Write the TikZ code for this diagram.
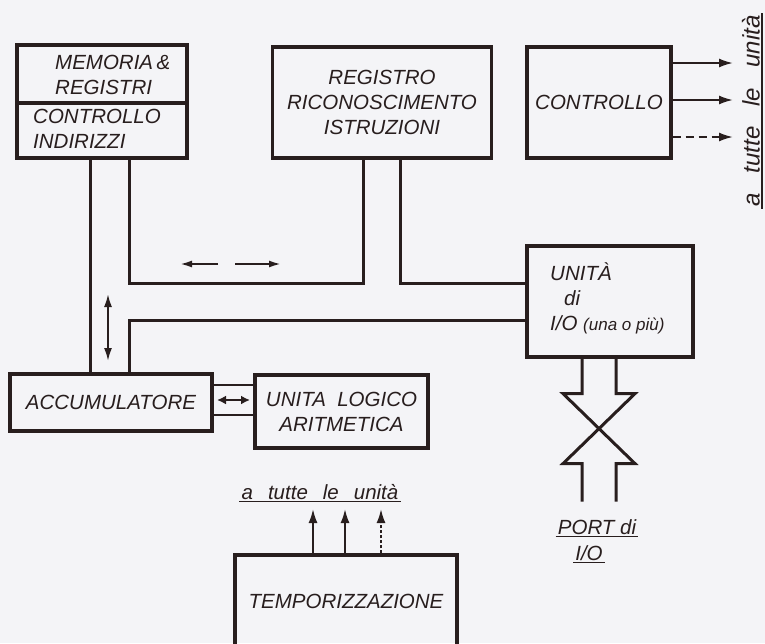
\documentclass[tikz,border=0pt]{standalone}
\usepackage{fontspec}
\setmainfont{Liberation Sans}
\usetikzlibrary{arrows.meta, calc}
\definecolor{ink}{RGB}{40,30,30}
\definecolor{paper}{RGB}{244,244,247}

\begin{document}
\begin{tikzpicture}[x=1pt, y=-1pt, every node/.style={font=\fontsize{20.5}{25}\selectfont\itshape, text=ink}]
  \tikzstyle{block} = [draw=ink, line width=3.2pt, rectangle, inner sep=0pt, align=center]
  \tikzstyle{bus} = [draw=ink, line width=3pt]
  \tikzstyle{sig} = [draw=ink, line width=2pt, -{Latex[length=14pt,width=9pt]}]
  \tikzstyle{lbl} = [inner sep=0pt, align=left]
  \tikzstyle{uline} = [draw=ink, line width=1.8pt]

  \fill[paper] (0,0) rectangle (765,643);
  \useasboundingbox (0,0) rectangle (765,643);

  % blocks
  \node[block, minimum width=170pt, minimum height=58pt] (memtop) at (102,74) {};
  \node[block, minimum width=170pt, minimum height=55pt] (membot) at (102,130.5) {};
  \node[lbl, anchor=west] (memtxt) at (55,75) {MEMORIA\,\&\\REGISTRI};
  \node[lbl, anchor=west] (indtxt) at (33,129) {CONTROLLO\\INDIRIZZI};
  \node[block, minimum width=219pt, minimum height=111pt] (reg) at (382,102.5) {REGISTRO\\RICONOSCIMENTO\\ISTRUZIONI};
  \node[block, minimum width=144pt, minimum height=111pt] (ctl) at (599,102.5) {CONTROLLO};
  \node[block, minimum width=166pt, minimum height=111pt] (io) at (610,301.5) {};
  \node[lbl, anchor=west] (iotxt) at (550,298) {UNITÀ\\\hspace{14pt}di\\I/O {\fontsize{17}{25}\selectfont(una o più)}};
  \node[block, minimum width=202pt, minimum height=57pt] (acc) at (111,402.5) {ACCUMULATORE};
  \node[block, minimum width=173pt, minimum height=73pt] (alu) at (341.5,411.5) {UNITA\ \ LOGICO\\ARITMETICA};
  \node[block, minimum width=222pt, minimum height=92pt] (tmp) at (346,601) {TEMPORIZZAZIONE};

  % bus
  \coordinate (xa) at (90,0);
  \coordinate (xb) at (129,0);
  \coordinate (xc) at (363,0);
  \coordinate (xd) at (400,0);
  \coordinate (yu) at (0,283);
  \coordinate (yl) at (0,320);
  \draw[bus] (membot.south -| xa) -- (acc.north -| xa);
  \draw[bus] (membot.south -| xb) |- (xc |- yu) -- (reg.south -| xc);
  \draw[bus] (reg.south -| xd) |- (io.west |- yu);
  \draw[bus] (acc.north -| xb) |- (io.west |- yl);

  % direction arrows on the bus
  \coordinate (hl0) at (218,264);
  \coordinate (hl1) at (180,264);
  \coordinate (hr0) at (235,264);
  \coordinate (hr1) at (281,264);
  \coordinate (vt) at (108,294);
  \coordinate (vb) at (108,361);
  \draw[sig, -{Latex[length=12pt,width=7pt]}] (hl0) -- (hl1);
  \draw[sig, -{Latex[length=12pt,width=7pt]}] (hr0) -- (hr1);
  \draw[sig, {Latex[length=13pt,width=8pt]}-{Latex[length=13pt,width=8pt]}] (vt) -- (vb);

  % accumulatore <-> ALU
  \coordinate (l1) at (0,385);
  \coordinate (l2) at (0,415);
  \coordinate (a1) at (217,400);
  \coordinate (a2) at (250,400);
  \draw[bus, line width=2.6pt] (acc.east |- l1) -- (alu.west |- l1);
  \draw[bus, line width=2.6pt] (acc.east |- l2) -- (alu.west |- l2);
  \draw[sig, line width=2.8pt, {Latex[length=9pt,width=9pt]}-{Latex[length=9pt,width=9pt]}] (a1) -- (a2);

  % control lines
  \coordinate (c1) at (733,63);
  \coordinate (c2) at (733,100);
  \coordinate (c3) at (733,137);
  \draw[sig] (ctl.east |- c1) -- (c1);
  \draw[sig] (ctl.east |- c2) -- (c2);
  \draw[sig, dash pattern=on 8pt off 5pt] (ctl.east |- c3) -- (c3);
  \node[lbl, inner sep=2pt, rotate=90, font=\fontsize{24}{28}\selectfont\itshape] (alltop) at (751,111) {a\hspace{20pt}tutte\hspace{20pt}le\hspace{20pt}unità};
  \draw[uline] (alltop.south west) -- (alltop.south east);

  % I/O ports
  \coordinate (pl) at (582,0);
  \coordinate (pr) at (616,0);
  \draw[bus] (io.south -| pl) -- ++(0,35) -- ++(-19,0) -- ++(72,70) -- ++(-19,0) -- ++(0,38);
  \draw[bus] (io.south -| pr) -- ++(0,35) -- ++(19,0) -- ++(-72,70) -- ++(19,0) -- ++(0,38);
  \node[lbl, inner sep=2pt, anchor=base] (port) at (597,534) {PORT di};
  \node[lbl, inner sep=2pt, anchor=base] (portio) at (589,560) {I/O};
  \draw[uline] (port.south west) -- (port.south east);
  \draw[uline] (portio.south west) -- (portio.south east);

  % timing
  \coordinate (t1) at (313,509);
  \coordinate (t2) at (345,509);
  \coordinate (t3) at (381,509);
  \draw[sig] (tmp.north -| t1) -- (t1);
  \draw[sig] (tmp.north -| t2) -- (t2);
  \draw[sig, dash pattern=on 3pt off 2pt] (tmp.north -| t3) -- (t3);
  \node[lbl, inner sep=2pt, anchor=base] (alllow) at (320,499) {a\hspace{15pt}tutte\hspace{15pt}le\hspace{15pt}unità};
  \draw[uline] (alllow.south west) -- (alllow.south east);
\end{tikzpicture}
\end{document}
